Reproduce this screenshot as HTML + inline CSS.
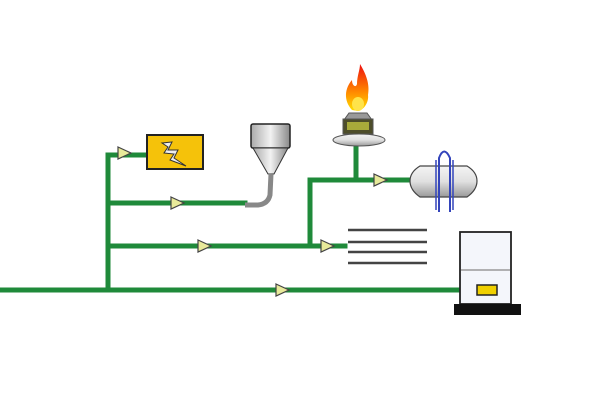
<!DOCTYPE html>
<html><head><style>html,body{margin:0;padding:0;background:#fff;width:605px;height:413px;overflow:hidden}</style></head>
<body>
<svg width="605" height="413" viewBox="0 0 605 413" xmlns="http://www.w3.org/2000/svg">
<defs>
<linearGradient id="g" x1="0" y1="0" x2="0" y2="1"><stop offset="0" stop-color="#f4f4f4"/><stop offset="0.5" stop-color="#e0e0e0"/><stop offset="1" stop-color="#9a9a9a"/></linearGradient>
<linearGradient id="gh" x1="0" y1="0" x2="1" y2="0"><stop offset="0" stop-color="#aaa"/><stop offset="0.5" stop-color="#f2f2f2"/><stop offset="1" stop-color="#888"/></linearGradient>
<linearGradient id="fl" x1="0" y1="1" x2="0" y2="0"><stop offset="0" stop-color="#ffe000"/><stop offset="0.4" stop-color="#ff8a00"/><stop offset="1" stop-color="#ee1010"/></linearGradient>
<g id="ar"><path d="M-7,-6 L6,0 L-7,6 Z" fill="#e8ea9a" stroke="#444" stroke-width="1.2"/></g>
</defs>
<g stroke="#1f8a3a" stroke-width="5" fill="none" stroke-linecap="square">
<path d="M0,290 H460"/>
<path d="M108,290 V155 H145"/>
<path d="M108,203 H245"/>
<path d="M108,246 H345"/>
<path d="M310,246 V180 H410"/>
<path d="M356,180 V146"/>
</g>
<!-- arrows -->
<use href="#ar" x="125" y="153"/>
<use href="#ar" x="178" y="203"/>
<use href="#ar" x="205" y="246"/>
<use href="#ar" x="328" y="246"/>
<use href="#ar" x="381" y="180"/>
<use href="#ar" x="283" y="290"/>
<!-- yellow box -->
<rect x="147" y="135" width="56" height="34" fill="#f5c20a" stroke="#222" stroke-width="2"/>
<path d="M162,143 L172,142 L168,150 L178,150 L174,158 L186,166 L170,160 L174,154 L164,153 L168,147 Z" fill="#eee" stroke="#333" stroke-width="1"/>
<!-- funnel -->
<rect x="251" y="124" width="39" height="24" rx="2" fill="url(#gh)" stroke="#222" stroke-width="1.5"/>
<path d="M253,148 L288,148 L274,174 L268,174 Z" fill="url(#gh)" stroke="#333" stroke-width="1"/>
<path d="M271,174 L270,195 Q268,204 258,205 L245,205" stroke="#888" stroke-width="5" fill="none"/>
<!-- burner -->
<path d="M352,110 C343,100 345,88 352,80 C352,86 356,88 357,84 C357,76 360,70 360,64 C366,74 370,84 368,95 C369,102 364,110 358,111 Z" fill="url(#fl)"/>
<ellipse cx="358" cy="104" rx="6" ry="7" fill="#ffe34a"/>
<path d="M349,113 L367,113 L372,120 L344,120 Z" fill="#999" stroke="#555"/>
<rect x="343" y="119" width="30" height="15" fill="#4d4d2a" stroke="#555"/>
<rect x="347" y="122" width="22" height="8" fill="#a8aa3a"/>
<ellipse cx="359" cy="140" rx="26" ry="6" fill="url(#g)" stroke="#555"/>
<!-- tank -->
<path d="M420,166 L467,166 Q477,172 477,181 Q477,190 467,197 L420,197 Q410,190 410,181 Q410,172 420,166 Z" fill="url(#g)" stroke="#444" stroke-width="1.2"/>
<path d="M439,212 V158 Q444,145 450,158 V212" stroke="#3344bb" stroke-width="2" fill="none"/>
<path d="M436,160 V210 M453,160 V210" stroke="#3344bb" stroke-width="1.5" fill="none"/>
<!-- lines -->
<g stroke="#444" stroke-width="2.5"><path d="M348,230 H427 M348,242 H427 M348,252 H427 M348,263 H427"/></g>
<!-- machine -->
<rect x="460" y="232" width="51" height="72" fill="#f4f6fb" stroke="#222" stroke-width="1.8"/>
<path d="M461,270 H510" stroke="#999" stroke-width="1.5"/>
<rect x="477" y="285" width="20" height="10" fill="#f0d000" stroke="#222" stroke-width="1.5"/>
<rect x="454" y="304" width="67" height="11" fill="#111"/>
</svg>
</body></html>
